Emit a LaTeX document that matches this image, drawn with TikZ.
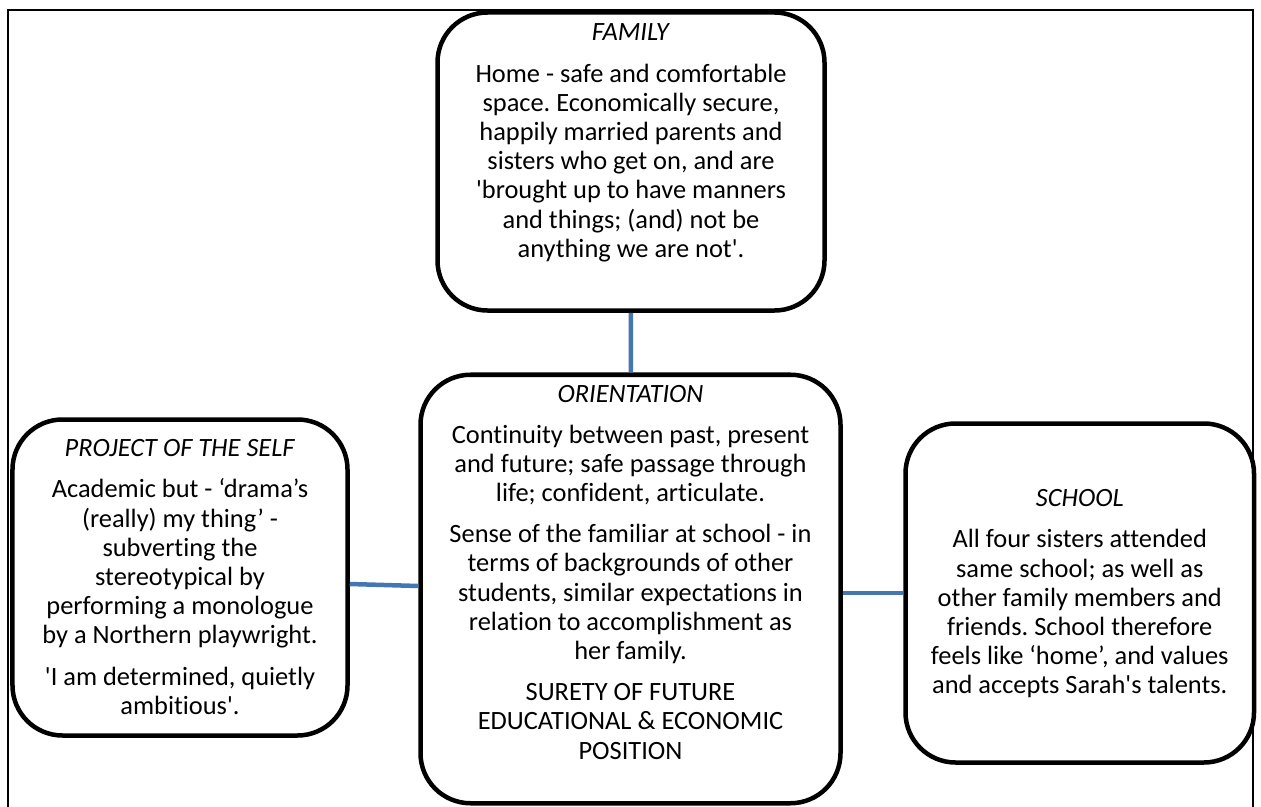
\documentclass[tikz,border=0pt]{standalone}
\usepackage{fontspec}
\setmainfont{Carlito}[Ligatures={TeXOff,NoCommon},RawFeature={-liga;-clig;-calt}]
\usepackage{xcolor}
\usetikzlibrary{positioning}
\definecolor{linkblue}{RGB}{70,118,178}
\frenchspacing
\tikzset{box/.style={draw, fill=white, line width=4.5bp, rounded corners=50bp, inner sep=0pt},
	txt/.style={align=center, inner sep=0pt, font=\fontsize{26.5}{29.3}\selectfont},
	link/.style={draw=linkblue, line width=4.5bp}}

\begin{document}
\begin{tikzpicture}[x=1bp,y=-1bp]
	\useasboundingbox (0,0) rectangle (1261,807);
	\draw[line width=2bp] (8,807) |- (1253,10) -- (1253,807);
	% the four boxes
	\node[box, minimum width=387bp, minimum height=298bp] (family) at (631,161.5){};
	\node[box, minimum width=420bp, minimum height=428.5bp] (orient) at (630.5,589){};
	\node[box, minimum width=335bp, minimum height=316bp] (project) at (180,577.5){};
	\node[box, minimum width=348.5bp, minimum height=339bp] (school) at (1079.75,593){};
	% texts
	\node[txt, below=13.5bp of family.north] (famtxt){\textit{FAMILY}\\[12bp]
		Home - safe and comfortable\\ space. Economically secure,\\ happily married parents and\\
		sisters who get on, and are\\ 'brought up to have manners\\ and things; (and) not be\\ anything we are not'.};
	\node[txt, below=12.2bp of orient.north] (orienttxt){\textit{ORIENTATION}\\[12bp]
		Continuity between past, present\\ and future; safe passage through\\ life; confident, articulate.\\[12bp]
		Sense of the familiar at school - in\\ terms of backgrounds of other\\ students, similar expectations in\\
		relation to accomplishment as\\ her family.\\[12bp]
		SURETY OF FUTURE\\ EDUCATIONAL \& ECONOMIC\\ POSITION};
	\node[txt, below=22.2bp of project.north] (projtxt){\textit{PROJECT OF THE SELF}\\[12bp]
		Academic but - ‘drama’s\\ (really) my thing’ -\\ subverting the\\ stereotypical by\\
		performing a monologue\\ by a Northern playwright.\\[12bp]
		'I am determined, quietly\\ ambitious'.};
	\node[txt, below=68.2bp of school.north] (schooltxt){\textit{SCHOOL}\\[12bp]
		All four sisters attended\\ same school; as well as\\ other family members and\\
		friends. School therefore\\ feels like ‘home’, and values\\ and accepts Sarah's talents.};
	% connectors
	\draw[link] (family) -- (orient);
	\draw[link] ([yshift=-6.5bp]project.east) -- ([yshift=3bp]orient.west);
	\draw[link] (school.west -| orient.east) -- (school.west);
\end{tikzpicture}
\end{document}
